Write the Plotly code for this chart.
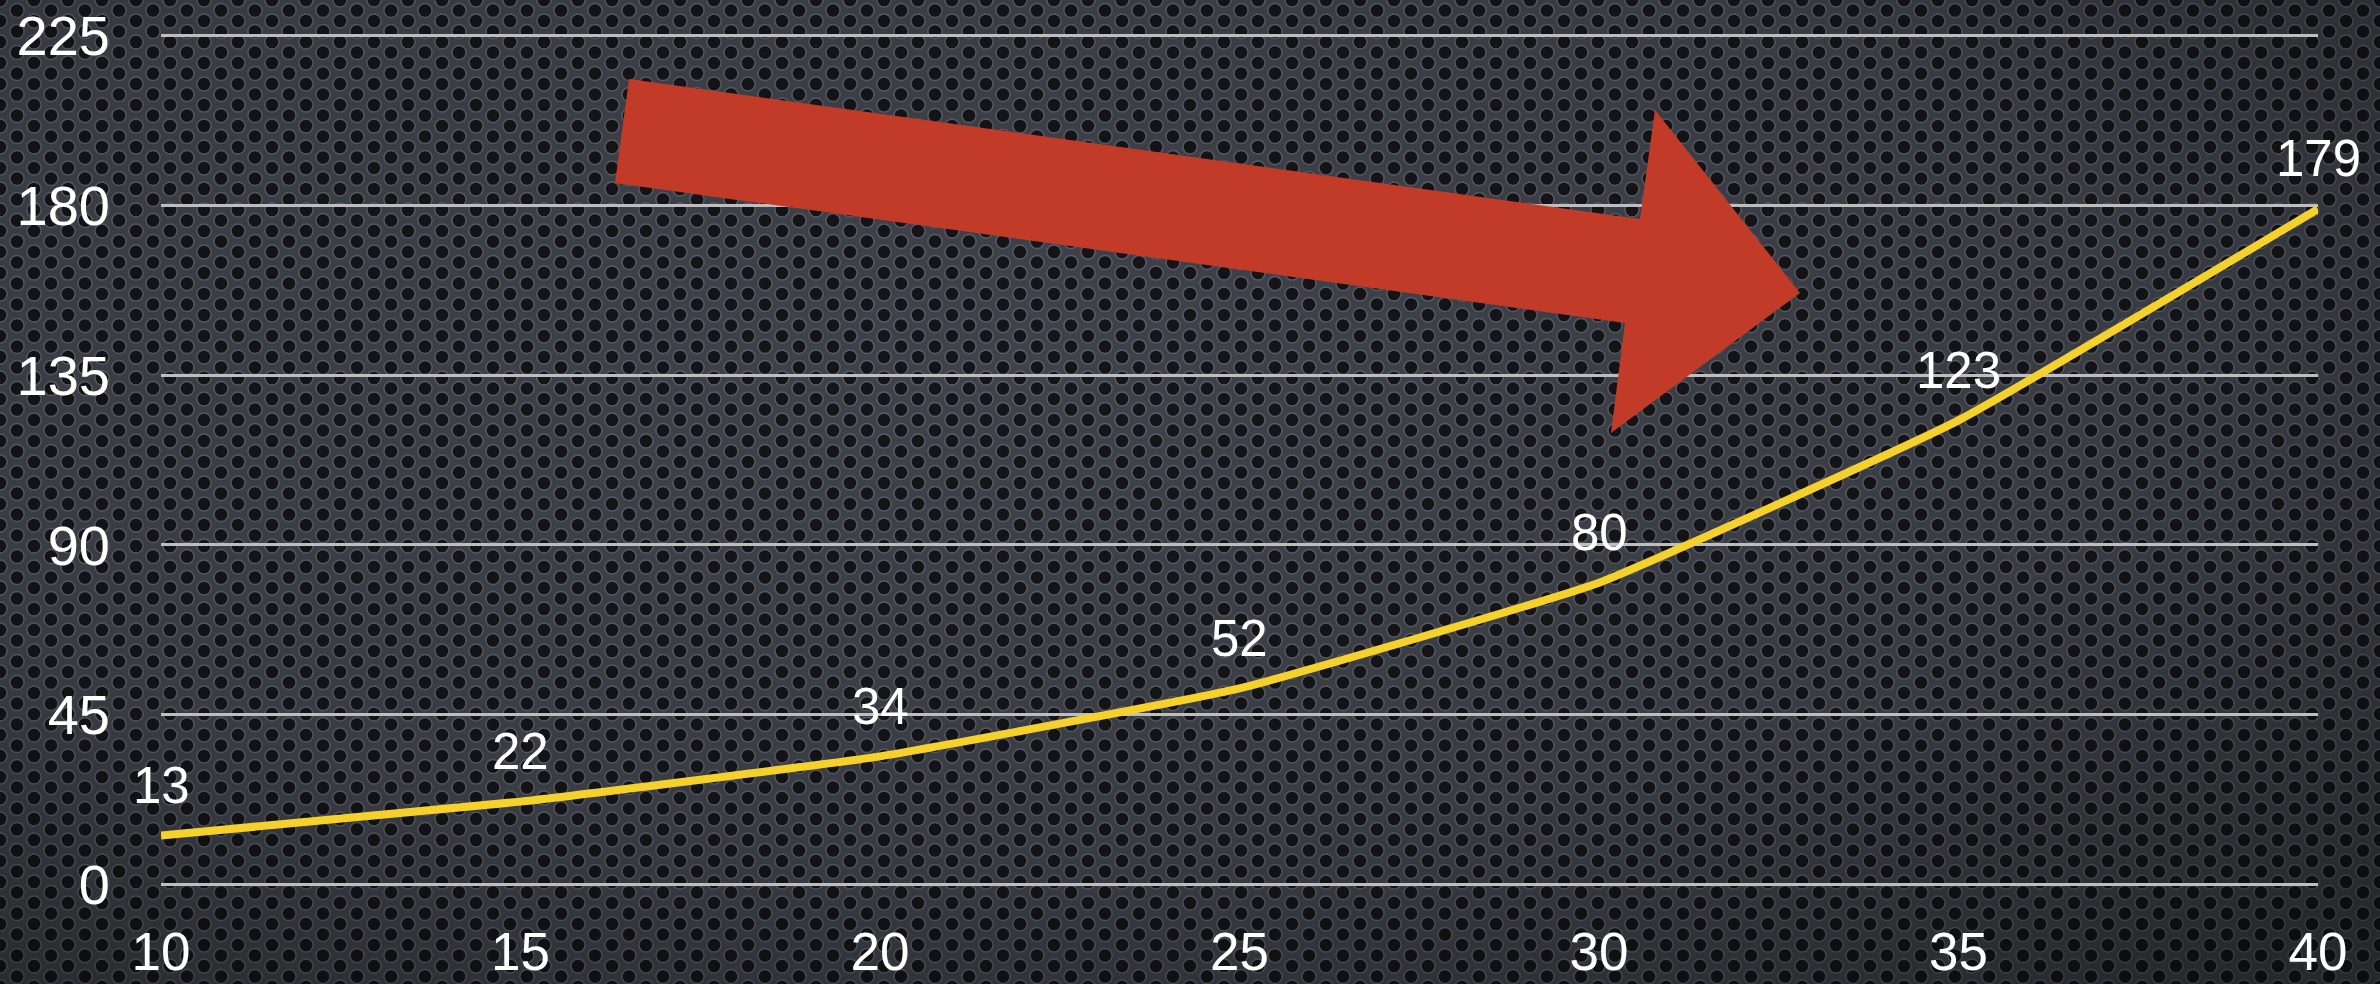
import base64
import plotly.graph_objects as go

# ---- data ----
x_values = [10, 15, 20, 25, 30, 35, 40]
y_values = [13, 22, 34, 52, 80, 123, 179]
y_ticks = [0, 45, 90, 135, 180, 225]
x_ticks = [10, 15, 20, 25, 30, 35, 40]

W, H = 2380, 984
ML, MR, MT, MB = 161, 62, 34, 98
PW, PH = W - ML - MR, H - MT - MB

# ---- perforated metal background (decoration) ----
holes = ""
for (cx, cy) in [(0, 0), (34, 0), (0, 21), (34, 21), (17, 10.5)]:
    holes += f'<circle cx="{cx}" cy="{cy}" r="7.8" fill="#5a5e67"/>'
    holes += f'<circle cx="{cx}" cy="{cy}" r="6.3" fill="#151418"/>'
svg = f'''<svg xmlns="http://www.w3.org/2000/svg" width="{W}" height="{H}" viewBox="0 0 {W} {H}">
<defs>
<pattern id="p" width="34" height="21" patternUnits="userSpaceOnUse">
<rect width="34" height="21" fill="#3f424a"/>{holes}
</pattern>
<radialGradient id="g" cx="0.42" cy="0.38" r="0.8">
<stop offset="0" stop-color="#000" stop-opacity="0"/>
<stop offset="0.6" stop-color="#000" stop-opacity="0.1"/>
<stop offset="1" stop-color="#000" stop-opacity="0.4"/>
</radialGradient>
</defs>
<rect width="{W}" height="{H}" fill="url(#p)"/>
<rect width="{W}" height="{H}" fill="url(#g)"/>
</svg>'''
bg_src = "data:image/svg+xml;base64," + base64.b64encode(svg.encode()).decode()

def px_to_paper(px, py):
    return (px - ML) / PW, (H - MB - py) / PH

# red arrow outline in pixel space (decoration)
arrow_px = [(629, 79), (1640, 219), (1655, 110), (1800, 293),
            (1611, 433), (1625, 323), (615, 183)]
pts = [px_to_paper(a, b) for a, b in arrow_px]
arrow_path = "M " + " L ".join(f"{a:.5f},{b:.5f}" for a, b in pts) + " Z"

fig = go.Figure()
fig.add_trace(go.Scatter(
    x=x_values, y=y_values, mode="lines",
    line=dict(color="#F4D12B", width=8, shape="spline", smoothing=0.35),
    hoverinfo="skip", showlegend=False,
))

for xv, yv in zip(x_values, y_values):
    fig.add_annotation(x=xv, y=yv, text=str(yv), showarrow=False, yshift=50,
                       font=dict(family="Liberation Sans, Arial, sans-serif", size=51, color="white"))

fig.add_shape(type="path", xref="paper", yref="paper", path=arrow_path,
              fillcolor="#C23B28", line=dict(width=0), layer="above")

fig.add_layout_image(dict(source=bg_src, xref="paper", yref="paper",
                          x=-ML / PW, y=1 + MT / PH, sizex=W / PW, sizey=H / PH,
                          xanchor="left", yanchor="top", sizing="stretch", layer="below"))

fig.update_layout(
    width=W, height=H,
    margin=dict(l=ML, r=MR, t=MT, b=MB, pad=0, autoexpand=False),
    paper_bgcolor="#26282c", plot_bgcolor="rgba(0,0,0,0)",
    showlegend=False,
    font=dict(family="Liberation Sans, Arial, sans-serif", color="white"),
)
fig.update_xaxes(range=[10, 40], tickvals=x_ticks, ticktext=[str(v) for v in x_ticks],
                 showgrid=False, zeroline=False, showline=False, ticks="", automargin=False,
                 tickfont=dict(size=53, color="white"), ticklabelstandoff=30)
fig.update_yaxes(range=[-0.35, 225.35], tickvals=y_ticks, ticktext=[str(v) for v in y_ticks],
                 showgrid=True, gridcolor="#BEBEBE", gridwidth=3, zeroline=False,
                 showline=False, ticks="", automargin=False,
                 tickfont=dict(size=56, color="white"), ticklabelstandoff=50)

fig.write_html("out.html", config={"displayModeBar": False},
               post_script="document.body.style.margin='0';document.body.style.padding='0';document.body.style.overflow='hidden';")
